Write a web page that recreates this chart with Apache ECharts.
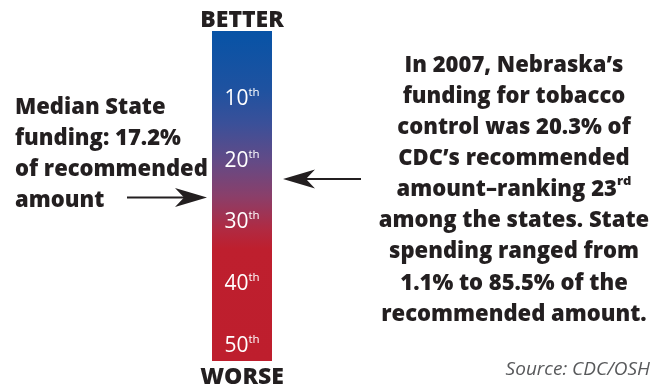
<!DOCTYPE html>
<html><head><meta charset="utf-8">
<script src="https://cdn.jsdelivr.net/npm/echarts@6/dist/echarts.min.js"></script>
<style>html,body{margin:0;padding:0;background:#fff}#c{width:662px;height:389px}</style>
</head><body><div id="c"></div>
<script>
// ---- data ----
const rankTicks = [10, 20, 30, 40, 50];
const tickSuffix = ['th', 'th', 'th', 'th', 'th'];
const rankRange = [-1, 52.5];          // extent of the ranking bar, in rank units
const nebraskaRank = 23;
const medianRank = 26;
const year = 2007;
const nebraskaPct = 20.3;
const medianPct = 17.2;
const spendRange = [1.1, 85.5];
const topLabel = 'BETTER';
const bottomLabel = 'WORSE';
const sourceText = 'Source: CDC/OSH';

// ---- chart ----
const chart = echarts.init(document.getElementById('c'), null, { renderer: 'canvas' });
const FONT = '"Open Sans", "DejaVu Sans", sans-serif';
const DARK = '#231f20';
const W = '800';

const barGradient = new echarts.graphic.LinearGradient(0, 0, 0, 1, [
  { offset: 0.00, color: '#0753a6' },
  { offset: 0.18, color: '#1f52a0' },
  { offset: 0.28, color: '#3a5099' },
  { offset: 0.40, color: '#654a85' },
  { offset: 0.50, color: '#8a3f6a' },
  { offset: 0.60, color: '#b02a42' },
  { offset: 0.66, color: '#be1f2e' },
  { offset: 1.00, color: '#be1e2d' }
]);

function arrowItem(params, api) {
  const c = api.coord([0, api.value(1)]);
  const side = api.value(2);           // -1: left of bar pointing right, 1: right of bar pointing left
  const bw = api.size([1, 0])[0];
  const y = c[1];
  let tip, tail, L = 32, H = 9.5, N = 9;
  if (side < 0) { tip = c[0] - bw / 2 - 5; tail = tip - 80; }
  else { tip = c[0] + bw / 2 + 11; tail = tip + 78; }
  const d = side < 0 ? -1 : 1;
  return {
    type: 'group',
    children: [
      { type: 'line', shape: { x1: tail, y1: y, x2: tip + d * (L - N), y2: y },
        style: { stroke: DARK, lineWidth: 2 } },
      { type: 'polygon', shape: { points: [
          [tip, y], [tip + d * L, y - H], [tip + d * (L - N), y], [tip + d * L, y + H]
        ] }, style: { fill: DARK } }
    ]
  };
}

const leftText = `Median State\nfunding: ${medianPct}%\nof recommended\namount`;
const rightText = `In ${year}, Nebraska\u2019s\nfunding for tobacco\ncontrol was ${nebraskaPct}% of\nCDC\u2019s recommended\namount\u2013ranking ${nebraskaRank}{sup|rd}\namong the states. State\nspending ranged from\n${spendRange[0]}% to ${spendRange[1]}% of the\nrecommended amount.`;

const option = {
  animation: false,
  grid: { left: 212, top: 31, width: 60, height: 330 },
  xAxis: { type: 'category', data: ['rank'], show: false },
  yAxis: { type: 'value', inverse: true, min: rankRange[0], max: rankRange[1], show: false },
  series: [
    {
      type: 'custom',
      data: [[0, rankRange[0], rankRange[1]]],
      renderItem: (params, api) => {
        const p0 = api.coord([0, api.value(1)]);
        const p1 = api.coord([0, api.value(2)]);
        const w = api.size([1, 0])[0];
        return { type: 'rect', shape: { x: p0[0] - w / 2, y: p0[1], width: w, height: p1[1] - p0[1] },
          style: { fill: barGradient } };
      }
    },
    {
      type: 'scatter',
      data: rankTicks.map(r => [0, r]),
      symbolSize: 0,
      itemStyle: { opacity: 1 },
      emphasis: { disabled: true },
      label: {
        show: true, position: 'inside', opacity: 1,
        formatter: p => `{n|${rankTicks[p.dataIndex]}}{s|${tickSuffix[p.dataIndex]}}`,
        rich: {
          n: { fontFamily: FONT, fontSize: 21, color: '#ffffff', lineHeight: 24, opacity: 1 },
          s: { fontFamily: FONT, fontSize: 11.5, color: '#ffffff', verticalAlign: 'top', lineHeight: 13, opacity: 1 }
        }
      }
    },
    {
      type: 'custom',
      data: [[0, medianRank, -1], [0, nebraskaRank, 1]],
      renderItem: arrowItem
    }
  ],
  graphic: [
    { type: 'text', x: 242, y: 20, style: { text: topLabel, font: `${W} 23px ${FONT}`, fill: DARK, align: 'center', verticalAlign: 'middle' } },
    { type: 'text', x: 242, y: 377, style: { text: bottomLabel, font: `${W} 23px ${FONT}`, fill: DARK, align: 'center', verticalAlign: 'middle' } },
    { type: 'text', x: 15, y: 92, style: { text: leftText, font: `${W} 22px ${FONT}`, fill: DARK, align: 'left', verticalAlign: 'top', lineHeight: 31 } },
    { type: 'text', x: 514, y: 50, style: { text: rightText, font: `${W} 22px ${FONT}`, fill: DARK, align: 'center', verticalAlign: 'top', lineHeight: 31.1,
        rich: { sup: { font: `${W} 13px ${FONT}`, fill: DARK, verticalAlign: 'top', lineHeight: 16 } } } },
    { type: 'text', x: 650, y: 370, style: { text: sourceText, font: `italic 19px ${FONT}`, fill: '#58595b', align: 'right', verticalAlign: 'middle' } }
  ]
};
chart.setOption(option);
</script>
</body></html>
